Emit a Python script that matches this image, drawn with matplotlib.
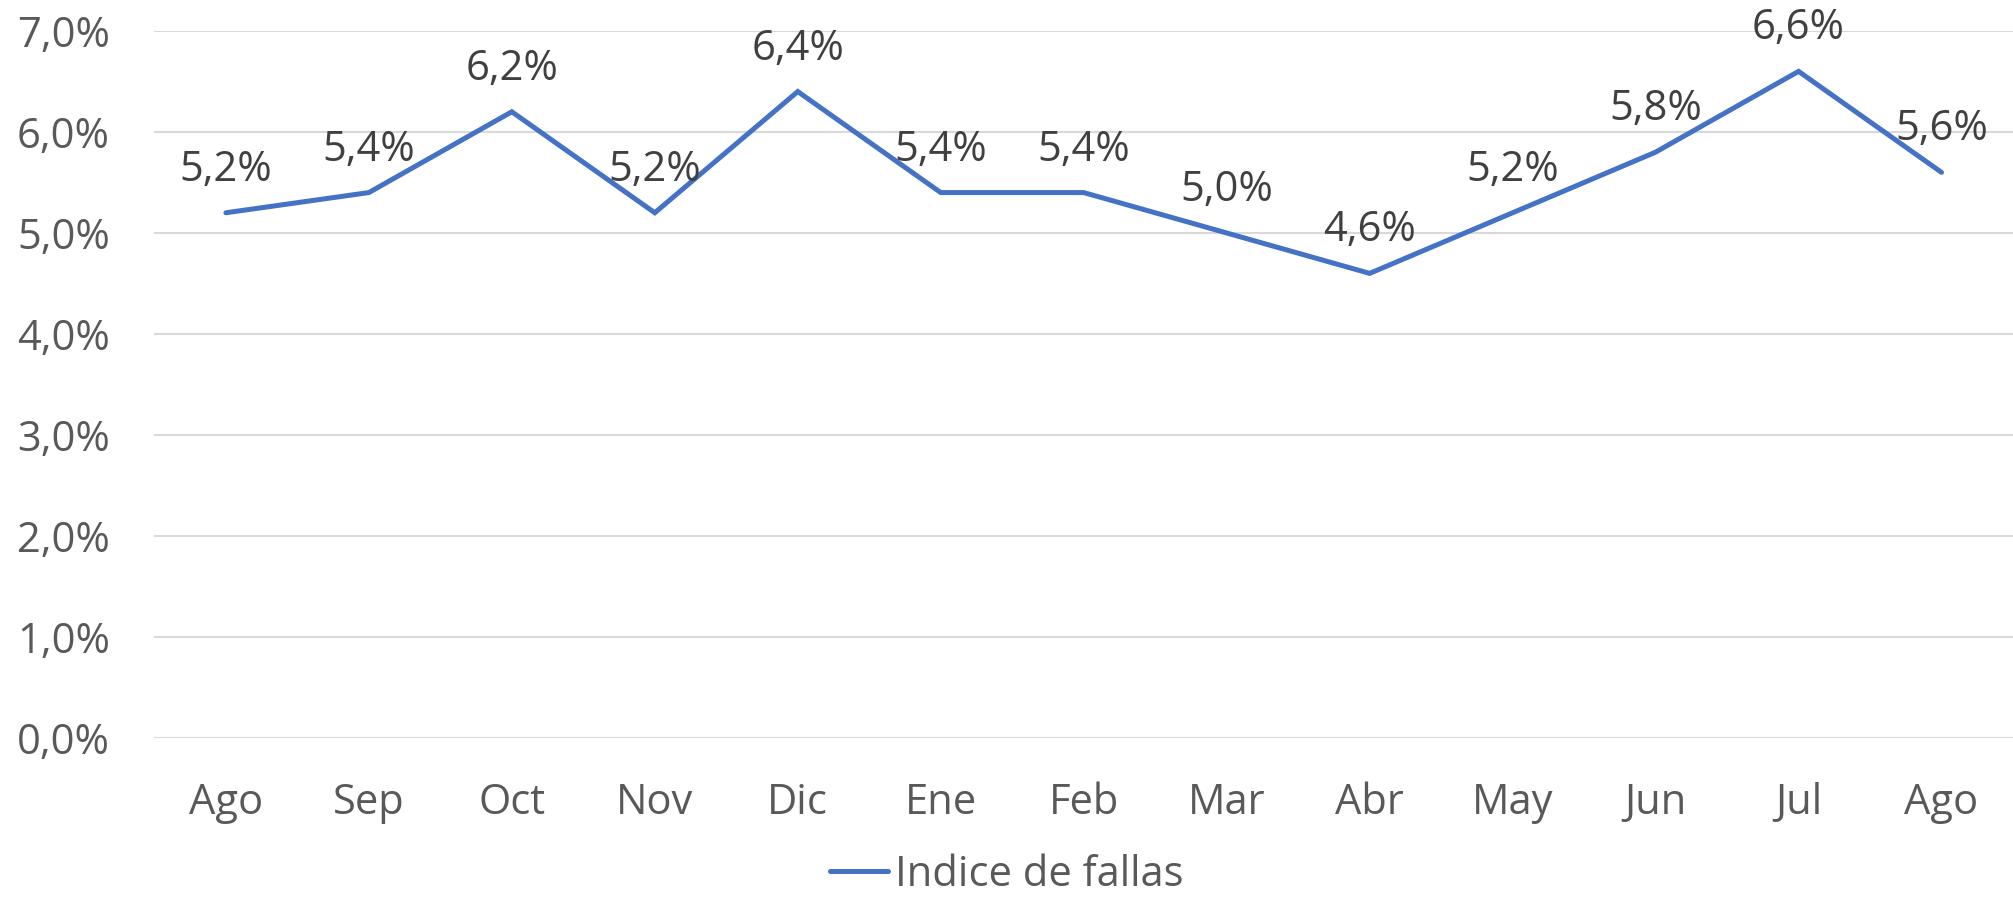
import matplotlib.pyplot as plt
from matplotlib.ticker import FuncFormatter

meses = ['Ago', 'Sep', 'Oct', 'Nov', 'Dic', 'Ene', 'Feb', 'Mar', 'Abr', 'May', 'Jun', 'Jul', 'Ago']
indice = [5.2, 5.4, 6.2, 5.2, 6.4, 5.4, 5.4, 5.0, 4.6, 5.2, 5.8, 6.6, 5.6]
y_ticks = [0, 1, 2, 3, 4, 5, 6, 7]

plt.rcParams['font.family'] = ['Open Sans', 'DejaVu Sans']

fig = plt.figure(figsize=(20.13, 9), dpi=100)
ax = fig.add_axes([0.0767, 0.18, 0.9233, 0.7856])

x = list(range(len(meses)))
ax.plot(x, indice, color='#4472C4', linewidth=3.6, solid_capstyle='round',
        solid_joinstyle='miter', label='Indice de fallas', zorder=3)

# etiquetas de datos encima de cada punto
for xi, v in zip(x, indice):
    ax.annotate(f'{v:.1f}%'.replace('.', ','), (xi, v), xytext=(0, 31),
                textcoords='offset points', ha='center', va='center',
                fontsize=30, color='#404040', zorder=4)

ax.set_xlim(-0.5, len(meses) - 0.5)
ax.set_ylim(0, 7)
ax.set_xticks(x)
ax.set_xticklabels(meses)
ax.set_yticks(y_ticks)
ax.yaxis.set_major_formatter(FuncFormatter(lambda v, p: f'{v:.1f}%'.replace('.', ',')))

ax.grid(axis='y', color='#D9D9D9', linewidth=1.5, zorder=0)
ax.set_axisbelow(True)
for s in ax.spines.values():
    s.set_visible(False)
ax.tick_params(axis='both', length=0, labelsize=30, labelcolor='#595959')
ax.tick_params(axis='y', pad=32)
ax.tick_params(axis='x', pad=32)

fig.legend(loc='center', bbox_to_anchor=(0.5, 0.028), frameon=False, fontsize=30,
           handlelength=1.4, handletextpad=0.15, borderpad=0.1, labelcolor='#595959')

fig.savefig('out.png', dpi=100)
